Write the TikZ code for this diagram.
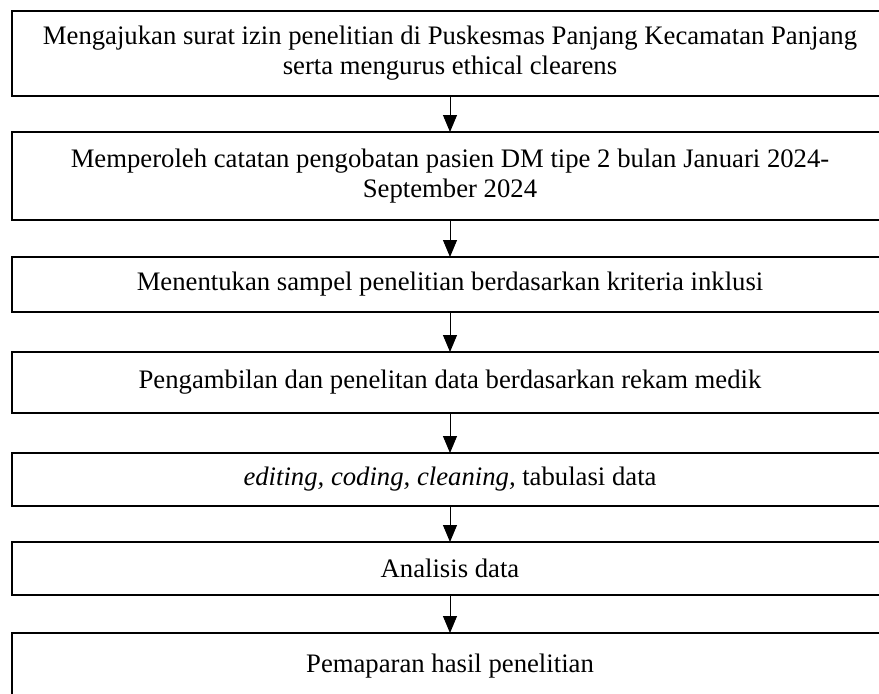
\documentclass[tikz,border=0pt]{standalone}
\usepackage{fontspec}
\setmainfont{Liberation Serif}
\usetikzlibrary{positioning,arrows.meta}

\begin{document}
\begin{tikzpicture}[x=1pt, y=-1pt, node distance=36pt,
    stage/.style={draw, rectangle, line width=1.2pt, outer sep=0pt, minimum width=876pt, align=center, font=\fontsize{26.7}{30}\selectfont},
    flow/.style={-{Triangle[width=14pt,length=17pt]}, line width=1pt}]
  \path[use as bounding box, clip] (0,0) rectangle (879,694);
  \node[stage, minimum height=85pt] (izin) at (450,53.5) {Mengajukan surat izin penelitian di Puskesmas Panjang Kecamatan Panjang\\serta mengurus ethical clearens};
  \node[stage, minimum height=88pt, below=36pt of izin] (catatan) {Memperoleh catatan pengobatan pasien DM tipe 2 bulan Januari 2024-\\September 2024};
  \node[stage, minimum height=55pt, below=37pt of catatan] (sampel) {Menentukan sampel penelitian berdasarkan kriteria inklusi};
  \node[stage, minimum height=61pt, below=40pt of sampel] (pengambilan) {Pengambilan dan penelitan data berdasarkan rekam medik};
  \node[stage, minimum height=53pt, below=40pt of pengambilan] (editing) {\textit{editing, coding, cleaning,} tabulasi data};
  \node[stage, minimum height=53pt, below=36pt of editing] (analisis) {Analisis data};
  \node[stage, minimum height=66pt, below=38pt of analisis] (pemaparan) {Pemaparan hasil penelitian};

  \draw[flow] (izin) -- (catatan);
  \draw[flow] (catatan) -- (sampel);
  \draw[flow] (sampel) -- (pengambilan);
  \draw[flow] (pengambilan) -- (editing);
  \draw[flow] (editing) -- (analisis);
  \draw[flow] (analisis) -- (pemaparan);
\end{tikzpicture}
\end{document}
